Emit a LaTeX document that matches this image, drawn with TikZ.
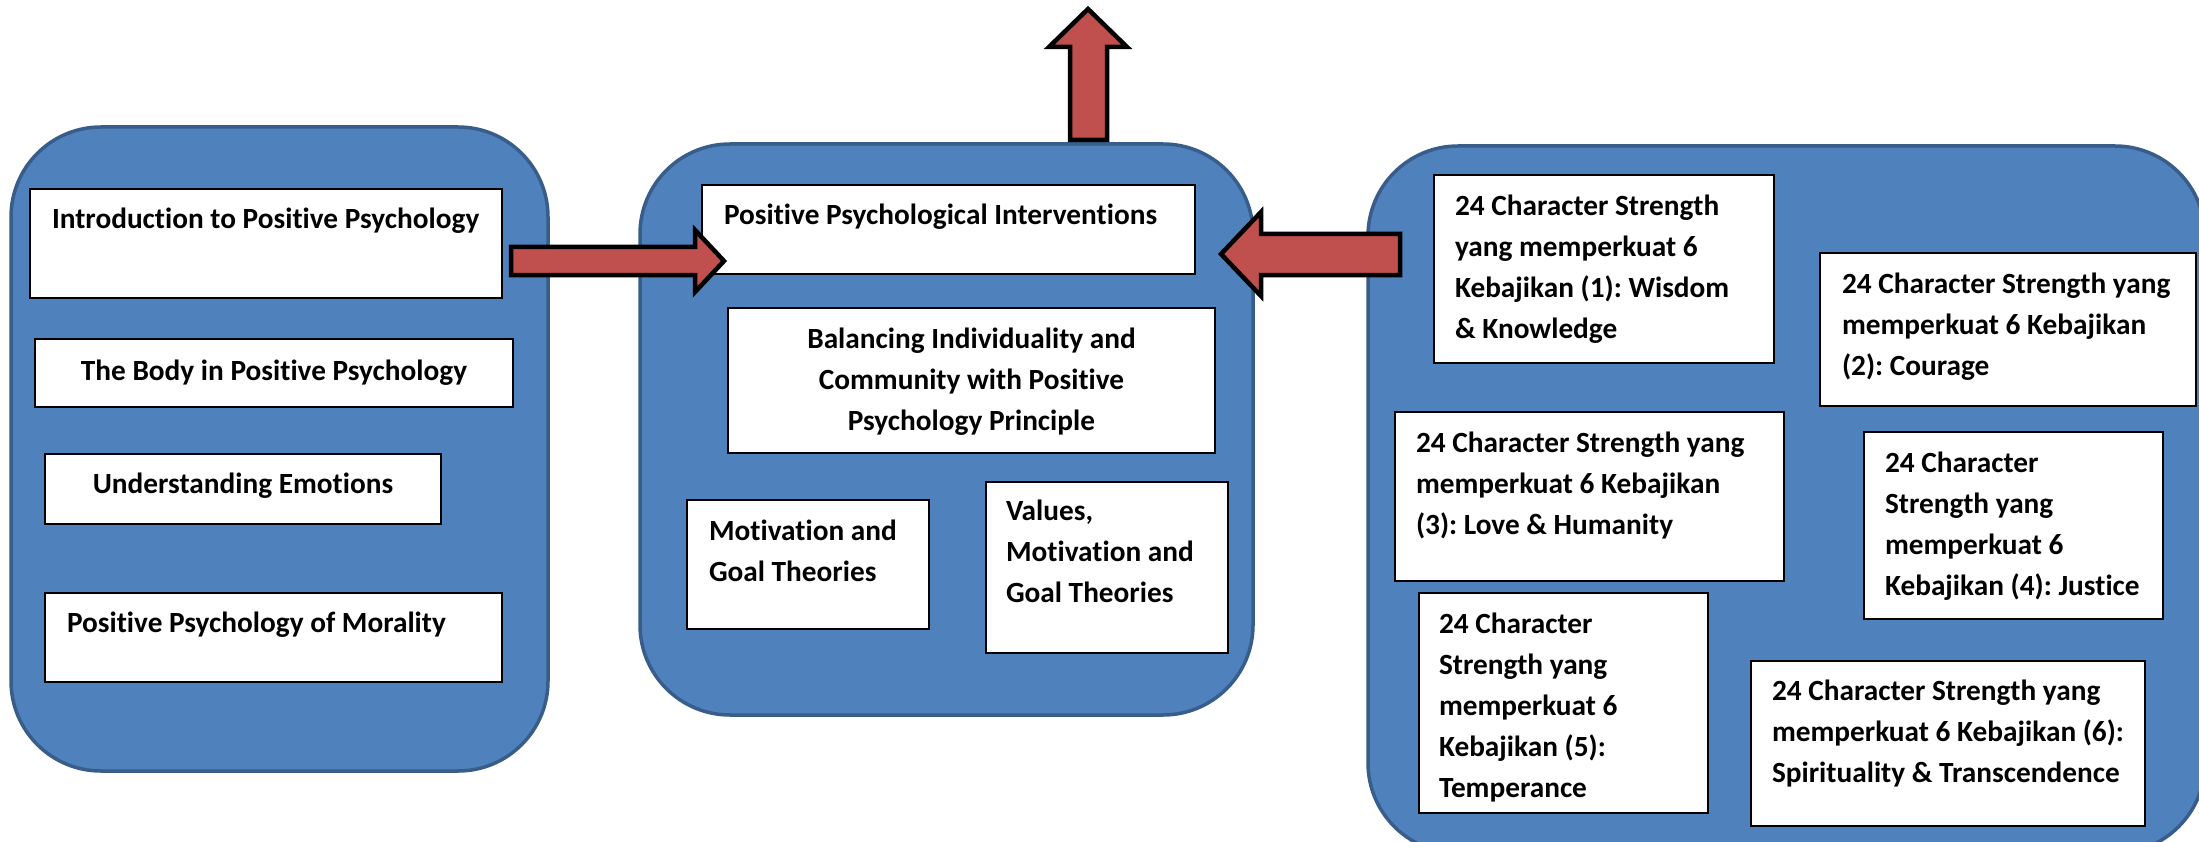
\documentclass[tikz,border=0pt]{standalone}
\usepackage{fontspec}
\setmainfont{Carlito}[Ligatures=NoCommon]
\frenchspacing
\definecolor{contfill}{HTML}{4F81BD}
\definecolor{contdraw}{HTML}{385D8A}
\definecolor{arrfill}{HTML}{C0504D}
\newcommand\lftlines[1]{\begin{tabular}[t]{@{}l@{}}#1\end{tabular}}
\newcommand\ctrlines[1]{\begin{tabular}[t]{@{}c@{}}#1\end{tabular}}
\tikzset{
  cont/.style={draw=contdraw, line width=3.5pt, fill=contfill, rounded corners=90pt, anchor=north west, inner sep=0pt, outer sep=0pt},
  box/.style={draw=black, line width=2.5pt, fill=white, anchor=north west, inner sep=0pt, outer sep=0pt},
  txt/.style={font=\fontsize{29.3}{41}\selectfont\bfseries, inner sep=0pt, outer sep=0pt, anchor=base west},
  ctxt/.style={txt, anchor=base},
  blockarrow/.style={draw=black, line width=4.5pt, fill=arrfill, line join=miter}
}
\begin{document}
\begin{tikzpicture}[x=1pt,y=-1pt]
\useasboundingbox (0,0) rectangle (2199,842);
\clip (0,0) rectangle (2199,842);
\fill[white] (0,0) rectangle (2199,842);

% containers
\node[cont, minimum width=537pt, minimum height=644pt] (leftC) at (11,127) {};
\node[cont, minimum width=613pt, minimum height=571pt] (midC) at (640,144) {};
\node[cont, minimum width=837pt, minimum height=707pt] (rightC) at (1368,146) {};

% left boxes
\node[box, minimum width=472pt, minimum height=109pt] (intro) at (30,189) {};
\node[txt] (introT) at (52,229) {\lftlines{Introduction to Positive Psychology}};
\node[box, minimum width=478pt, minimum height=68pt] (body) at (35,339) {};
\node[ctxt] (bodyT) at (274,380) {\ctrlines{The Body in Positive Psychology}};
\node[box, minimum width=396pt, minimum height=70pt] (und) at (45,454) {};
\node[ctxt] (undT) at (243,493) {\ctrlines{Understanding Emotions}};
\node[box, minimum width=457pt, minimum height=89pt] (mor) at (45,593) {};
\node[txt] (morT) at (67,632) {\lftlines{Positive Psychology of Morality}};

% middle boxes
\node[box, minimum width=493pt, minimum height=89pt] (ppi) at (702,185) {};
\node[txt] (ppiT) at (724,225) {\lftlines{Positive Psychological Interventions}};
\node[box, minimum width=487pt, minimum height=145pt] (bal) at (728,308) {};
\node[ctxt] (balT) at (971.5,348) {\ctrlines{Balancing Individuality and\\Community with Positive\\Psychology Principle}};
\node[box, minimum width=242pt, minimum height=129pt] (mot) at (687,500) {};
\node[txt] (motT) at (709,540) {\lftlines{Motivation and\\Goal Theories}};
\node[box, minimum width=242pt, minimum height=171pt] (val) at (986,482) {};
\node[txt] (valT) at (1006,520) {\lftlines{Values,\\Motivation and\\Goal Theories}};

% right boxes
\node[box, minimum width=340pt, minimum height=188pt] (r1) at (1434,175) {};
\node[txt] (r1T) at (1455,216) {\lftlines{24 Character Strength\\yang memperkuat 6\\Kebajikan (1): Wisdom\\\& Knowledge}};
\node[box, minimum width=376pt, minimum height=153pt] (r2) at (1820,253) {};
\node[txt] (r2T) at (1842,293) {\lftlines{24 Character Strength yang\\memperkuat 6 Kebajikan\\(2): Courage}};
\node[box, minimum width=389pt, minimum height=169pt] (r3) at (1395,412) {};
\node[txt] (r3T) at (1416,452) {\lftlines{24 Character Strength yang\\memperkuat 6 Kebajikan\\(3): Love \& Humanity}};
\node[box, minimum width=299pt, minimum height=187pt] (r4) at (1864,432) {};
\node[txt] (r4T) at (1885,472) {\lftlines{24 Character\\Strength yang\\memperkuat 6\\Kebajikan (4): Justice}};
\node[box, minimum width=289pt, minimum height=220pt] (r5) at (1419,593) {};
\node[txt] (r5T) at (1439,633) {\lftlines{24 Character\\Strength yang\\memperkuat 6\\Kebajikan (5):\\Temperance}};
\node[box, minimum width=394pt, minimum height=165pt] (r6) at (1751,661) {};
\node[txt] (r6T) at (1772,700) {\lftlines{24 Character Strength yang\\memperkuat 6 Kebajikan (6):\\Spirituality \& Transcendence}};

% block arrows
\draw[blockarrow] (511,247) -- (695,247) -- (695,230) -- (724,261) -- (695,292) -- (695,275) -- (511,275) -- cycle;
\draw[blockarrow] (1400,234) -- (1261,234) -- (1261,212) -- (1221,254) -- (1261,296) -- (1261,275) -- (1400,275) -- cycle;
\draw[blockarrow] (1070,140) -- (1070,47) -- (1049,47) -- (1088,9) -- (1127,47) -- (1107,47) -- (1107,140) -- cycle;
\end{tikzpicture}
\end{document}
